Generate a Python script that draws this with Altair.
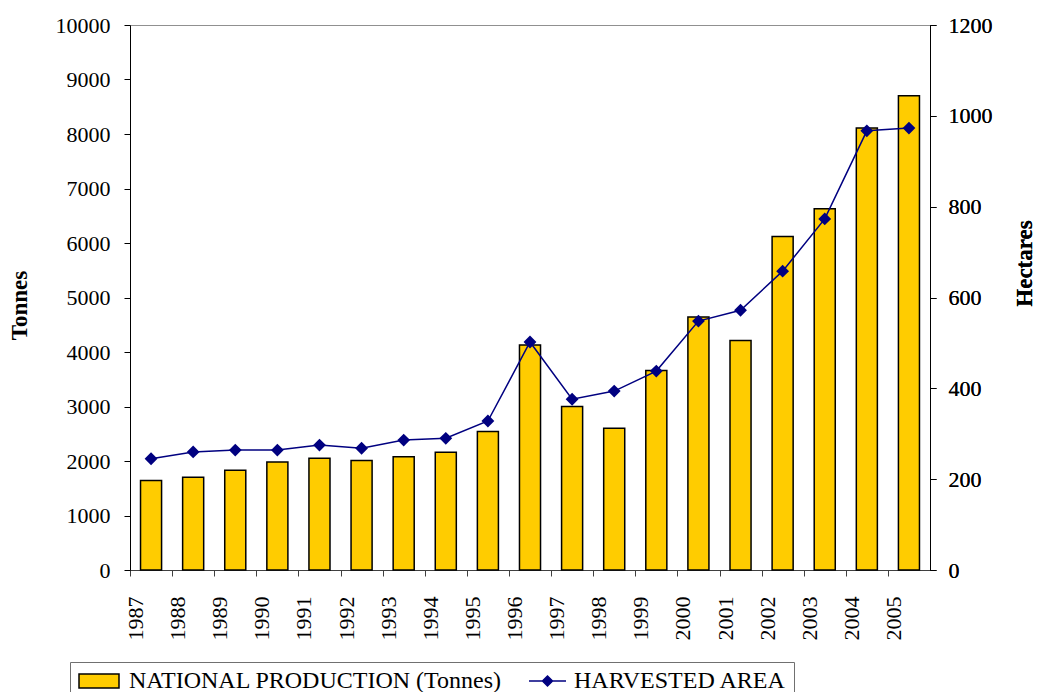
import altair as alt
import pandas as pd

years = [str(y) for y in range(1987, 2006)]
production = [1640, 1700, 1830, 1980, 2050, 2010, 2080, 2160, 2540, 4130,
              3000, 2600, 3660, 4640, 4210, 6120, 6630, 8110, 8700]
area = [245, 260, 264, 264, 275, 268, 286, 290, 328, 502,
        376, 394, 438, 548, 572, 658, 773, 967, 973]

prod_label = "NATIONAL PRODUCTION (Tonnes)"
area_label = "HARVESTED AREA"
series_names = [prod_label, area_label]

df = pd.DataFrame({"year": years, "production": production, "area": area})
legend_df = pd.DataFrame({"series": series_names})

FONT = "Liberation Serif"
GOLD = "#FFCC00"
NAVY = "#000080"
TICK_FS = 22
TITLE_FS = 23

legend = alt.Legend(
    title=None, orient="none", legendX=-60, legendY=637, direction="horizontal",
    labelFont=FONT, labelFontSize=24, labelColor="black", labelOffset=28,
    columnPadding=20, padding=7, strokeColor="#707070", fillColor="white",
    symbolSize=400, symbolStrokeWidth=1.5, symbolOpacity=1, labelLimit=600,
)

x_enc = alt.X(
    "year:N", sort=years,
    scale=alt.Scale(paddingInner=0.5, paddingOuter=0.25),
    axis=alt.Axis(
        title=None, labelAngle=-90, bandPosition=0, tickOffset=-10.5, labelOffset=-5,
        labelFont=FONT, labelFontSize=TICK_FS, labelColor="black",
        labelPadding=20, tickSize=6, tickColor="#404040", domainColor="#404040",
        labelAlign="right", labelBaseline="middle",
    ),
)

bars = alt.Chart(df).mark_bar(
    fill=GOLD, stroke="black", strokeWidth=1.5, opacity=1
).encode(
    x=x_enc,
    y=alt.Y(
        "production:Q",
        scale=alt.Scale(domain=[0, 10000]),
        axis=alt.Axis(
            title="Tonnes", values=list(range(0, 10001, 1000)), format="d",
            grid=False, labelFont=FONT, labelFontSize=TICK_FS, labelColor="black",
            titleFont=FONT, titleFontSize=TITLE_FS, titleFontWeight="bold", titleColor="black",
            titlePadding=24, titleY=280, tickSize=6, labelPadding=14,
            tickColor="black", domainColor="black",
        ),
    ),
)

right_axis = alt.Axis(
    title="Hectares", orient="right", values=list(range(0, 1201, 200)), format="d",
    grid=False, labelFont=FONT, labelFontSize=TICK_FS, labelColor="black",
    titleFont=FONT, titleFontSize=TITLE_FS, titleFontWeight="bold", titleColor="black",
    titleAngle=270, titleBaseline="top", titlePadding=21, titleY=238,
    tickSize=6, labelPadding=12, tickColor="black", domainColor="black",
)

line = alt.Chart(df).mark_line(stroke=NAVY, strokeWidth=1.5).encode(
    x=x_enc,
    y=alt.Y("area:Q", scale=alt.Scale(domain=[0, 1200]), axis=right_axis),
)

points = alt.Chart(df).mark_point(
    shape="diamond", filled=True, size=100, opacity=1, fill=NAVY, stroke=NAVY
).encode(
    x=x_enc,
    y=alt.Y("area:Q", scale=alt.Scale(domain=[0, 1200]), axis=right_axis),
)

rect_path = "M-1,-0.7L3,-0.7L3,0.7L-1,0.7Z"
line_diamond_path = "M-0.5,0L3.2,0M1.35,-0.5L1.85,0L1.35,0.5L0.85,0Z"

legend_layer = alt.Chart(legend_df).mark_point(filled=True, opacity=0, strokeWidth=1.5).encode(
    fill=alt.Fill("series:N", scale=alt.Scale(domain=series_names, range=[GOLD, NAVY]), legend=legend),
    stroke=alt.Stroke("series:N", scale=alt.Scale(domain=series_names, range=["#000000", NAVY]), legend=legend),
    shape=alt.Shape("series:N", scale=alt.Scale(domain=series_names, range=[rect_path, line_diamond_path]), legend=legend),
)

chart = alt.layer(bars, line, points, legend_layer).resolve_scale(y="independent").properties(
    width=800, height=545,
    autosize=alt.AutoSizeParams(type="none"),
    padding={"left": 122, "top": 17, "right": 106, "bottom": 122},
    background="white",
).configure_view(stroke="#909090", strokeWidth=1)

chart.save("out.html", embed_options={"renderer": "svg", "actions": False})
